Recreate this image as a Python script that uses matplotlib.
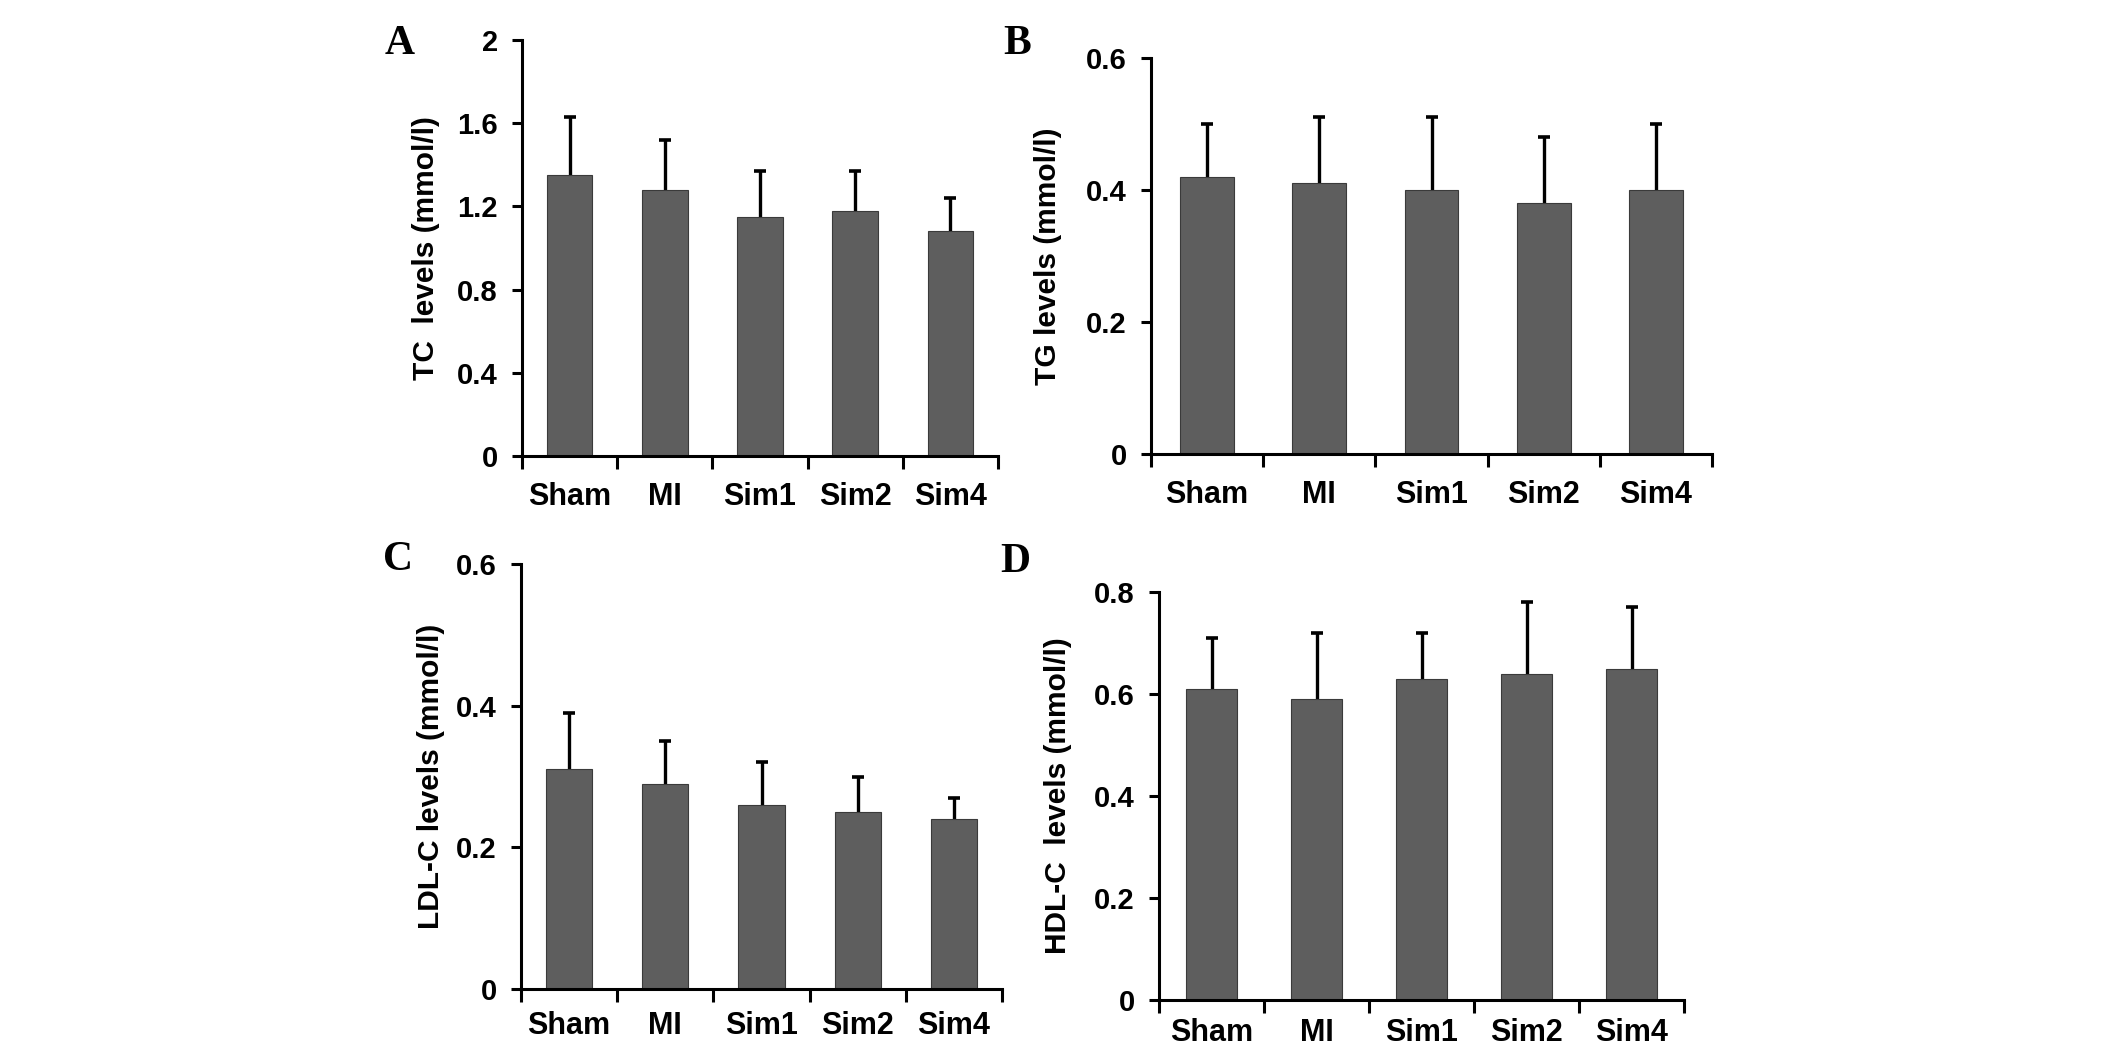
import matplotlib
matplotlib.use("Agg")
import matplotlib.pyplot as plt
import numpy as np

plt.rcParams['font.family'] = ['Liberation Sans', 'DejaVu Sans']
plt.rcParams['font.weight'] = 'bold'

groups = ["Sham", "MI", "Sim1", "Sim2", "Sim4"]

tc_mean = [1.35, 1.28, 1.15, 1.18, 1.08]
tc_sd = [0.28, 0.24, 0.22, 0.19, 0.16]
tg_mean = [0.42, 0.41, 0.40, 0.38, 0.40]
tg_sd = [0.08, 0.10, 0.11, 0.10, 0.10]
ldl_mean = [0.31, 0.29, 0.26, 0.25, 0.24]
ldl_sd = [0.08, 0.06, 0.06, 0.05, 0.03]
hdl_mean = [0.61, 0.59, 0.63, 0.64, 0.65]
hdl_sd = [0.10, 0.13, 0.09, 0.14, 0.12]

tc_ticks = [0, 0.4, 0.8, 1.2, 1.6, 2]
tg_ticks = [0, 0.2, 0.4, 0.6]
ldl_ticks = [0, 0.2, 0.4, 0.6]
hdl_ticks = [0, 0.2, 0.4, 0.6, 0.8]

W, H = 2126, 1049
fig = plt.figure(figsize=(W / 100, H / 100), dpi=100)

BAR = "#5e5e5e"


def panel(box, means, sds, ticks, ylabel, label_dx, letter, letter_xy, xpad=19):
    left, right, top, bottom = box
    ax = fig.add_axes([left / W, 1 - bottom / H, (right - left) / W, (bottom - top) / H])
    x = np.arange(len(groups))
    ax.bar(x, means, width=0.48, color=BAR, edgecolor="#3a3a3a", linewidth=0.8, zorder=2)
    # symmetric bars drawn behind the columns, so only the upper half shows
    ax.errorbar(x, means, yerr=sds, fmt="none", ecolor="black",
                elinewidth=2.4, capsize=4.5, capthick=2.6, zorder=1)
    ax.set_xlim(-0.5, len(groups) - 0.5)
    ax.set_ylim(0, ticks[-1])
    ax.set_yticks(ticks)
    ax.set_yticklabels([f"{t:g}" for t in ticks])
    ax.set_xticks(x)
    ax.set_xticklabels(groups)
    ax.set_xticks(np.arange(len(groups) + 1) - 0.5, minor=True)
    ax.tick_params(axis="x", which="major", length=0, pad=xpad, labelsize=22)
    ax.tick_params(axis="x", which="minor", length=9.5, width=2.2, direction="out")
    ax.tick_params(axis="y", which="major", length=7.5, width=2.2, pad=10, labelsize=21)
    for s in ("top", "right"):
        ax.spines[s].set_visible(False)
    for s in ("left", "bottom"):
        ax.spines[s].set_linewidth(2.2)
    ax.set_ylabel(ylabel, fontsize=21.5, fontweight="bold")
    ax.yaxis.set_label_coords(label_dx / (right - left), 0.5)
    fig.text(letter_xy[0] / W, 1 - letter_xy[1] / H, letter, family="Liberation Serif",
             fontsize=30, fontweight="bold", ha="center", va="center")
    return ax


panel((522, 998, 40, 456), tc_mean, tc_sd, tc_ticks, "TC  levels (mmol/l)", -82, "A", (400, 44))
panel((1151, 1712, 58, 454), tg_mean, tg_sd, tg_ticks, "TG levels (mmol/l)", -89, "B", (1017, 44))
panel((521, 1002, 564, 989), ldl_mean, ldl_sd, ldl_ticks, "LDL-C levels (mmol/l)", -76, "C", (398, 560),
      xpad=16)
panel((1159, 1684, 592, 1000), hdl_mean, hdl_sd, hdl_ticks, "HDL-C  levels (mmol/l)", -87, "D", (1015, 562),
      xpad=13)

fig.savefig("out.png", dpi=100, facecolor="white")
